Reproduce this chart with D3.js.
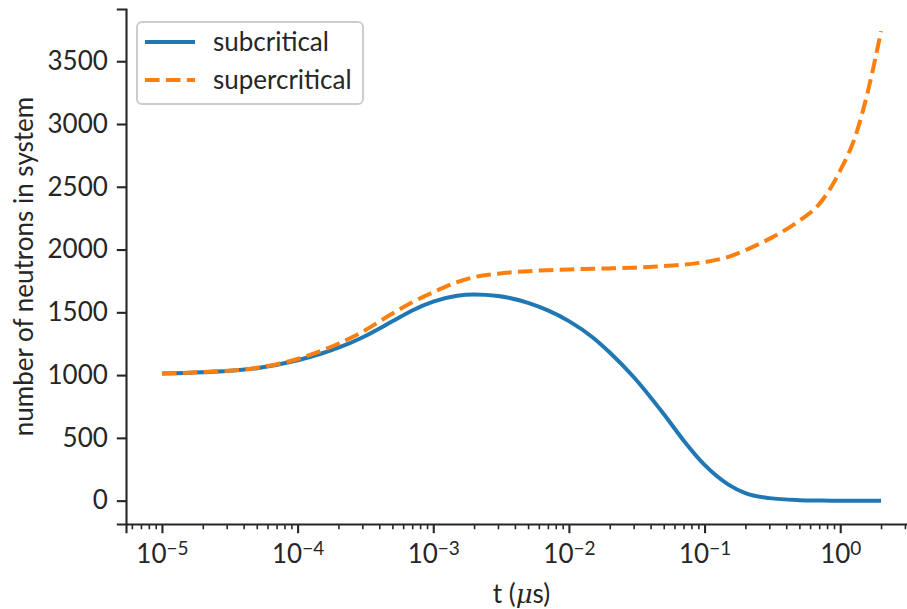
<!DOCTYPE html>
<html>
<head>
<meta charset="utf-8">
<script src="https://cdn.jsdelivr.net/npm/d3@7"></script>
<style>
  body { margin: 0; background: #fff; }
  svg { display: block; }
  text { font-family: Lato, "Open Sans", sans-serif; fill: #262626; }
</style>
</head>
<body>
<div id="chart"></div>
<script>
// time in microseconds (log scale)
const times = [1e-5, 2e-5, 5e-5, 1e-4, 1.5e-4, 2e-4, 3e-4, 5e-4, 7e-4, 1e-3, 1.5e-3, 2e-3,
  3e-3, 5e-3, 7e-3, 1e-2, 1.5e-2, 2e-2, 3e-2, 5e-2, 7e-2, 0.1, 0.15, 0.2, 0.3, 0.5, 0.7,
  0.85, 1, 1.3, 1.6, 2]

const subcritical = [1012, 1022, 1055, 1118, 1172, 1218, 1300, 1428, 1515, 1585, 1632, 1642,
  1630, 1575, 1515, 1430, 1300, 1180, 985, 690, 480, 285, 128, 60, 20, 4, 1,
  0, 0, 0, 0, 0]

const supercritical = [1012, 1024, 1058, 1128, 1195, 1250, 1345, 1490, 1580, 1660, 1740, 1780,
  1808, 1828, 1836, 1842, 1847, 1850, 1856, 1868, 1880, 1900, 1942, 1995, 2085, 2230, 2362,
  2490, 2630, 2910, 3260, 3740]

const seriesNames = ['subcritical', 'supercritical']
const yTicks = [0, 500, 1000, 1500, 2000, 2500, 3000, 3500]
const xTicks = [1e-5, 1e-4, 1e-3, 1e-2, 1e-1, 1]
const xTickExps = ['\u22125', '\u22124', '\u22123', '\u22122', '\u22121', '0']

const width = 907
const height = 609
const margin = { top: 9, right: -10, bottom: 85, left: 126 }

const svg = d3.select('#chart')
  .append('svg')
  .attr('width', width)
  .attr('height', height)

const x = d3.scaleLog()
  .domain([Math.pow(10, -5.265), Math.pow(10, 0.566)])
  .range([margin.left, width - margin.right])

const y = d3.scaleLinear()
  .domain([-186, 3916])
  .range([height - margin.bottom, margin.top])

const colors = ['#1f77b4', '#ff7f0e']
const dashes = [null, '14.6,6.3']

const line = d3.line()
  .x(d => x(d[0]))
  .y(d => y(d[1]))
  .curve(d3.curveMonotoneX)

const series = [subcritical, supercritical]
series.forEach((vals, i) => {
  svg.append('path')
    .datum(times.map((t, j) => [t, vals[j]]))
    .attr('fill', 'none')
    .attr('stroke', colors[i])
    .attr('stroke-width', 4)
    .attr('stroke-dasharray', dashes[i])
    .attr('d', line)
})

// minor ticks on x
const minor = []
for (let e = -6; e <= 0; e++) {
  for (let m = 2; m <= 9; m++) {
    const v = m * Math.pow(10, e)
    if (v >= x.domain()[0] && v <= x.domain()[1]) minor.push(v)
  }
}

const xAxisY = height - margin.bottom

svg.append('g')
  .attr('transform', `translate(0,${xAxisY})`)
  .call(d3.axisBottom(x).tickValues(minor).tickSize(5.3).tickFormat(''))
  .call(g => g.select('.domain').remove())
  .call(g => g.selectAll('line').attr('stroke', '#262626').attr('stroke-width', 1.6))

const xAxis = svg.append('g')
  .attr('transform', `translate(0,${xAxisY})`)
  .call(d3.axisBottom(x).tickValues(xTicks).tickSize(9.2).tickFormat(''))

xAxis.select('.domain').attr('stroke', '#262626').attr('stroke-width', 2.1)
xAxis.selectAll('line').attr('stroke', '#262626').attr('stroke-width', 2.1)

xAxis.selectAll('.tick')
  .append('text')
  .attr('y', 39)
  .attr('text-anchor', 'middle')
  .style('font-size', '26px')
  .each(function (d, i) {
    const t = d3.select(this)
    t.append('tspan').text('10')
    t.append('tspan')
      .attr('dy', -8)
      .style('font-size', '19px')
      .text(xTickExps[i])
  })

const yAxis = svg.append('g')
  .attr('transform', `translate(${margin.left},0)`)
  .call(d3.axisLeft(y).tickValues(yTicks).tickSize(9.2).tickPadding(9).tickFormat(d3.format('d')))

yAxis.select('.domain').attr('stroke', '#262626').attr('stroke-width', 2.1)
yAxis.selectAll('line').attr('stroke', '#262626').attr('stroke-width', 2.1)
yAxis.selectAll('text')
  .style('font-size', '26px')
  .style('font-family', 'Lato, sans-serif')
  .attr('fill', '#262626')

// axis labels
const xl = svg.append('text')
  .attr('x', (margin.left + width - margin.right) / 2)
  .attr('y', 603)
  .attr('text-anchor', 'middle')
  .style('font-size', '26px')
xl.append('tspan').text('t (')
xl.append('tspan').style('font-style', 'italic').style('font-family', 'DejaVu Serif').text('\u03bc')
xl.append('tspan').text('s)')

svg.append('text')
  .attr('transform', `translate(33,${(margin.top + xAxisY) / 2}) rotate(-90)`)
  .attr('text-anchor', 'middle')
  .style('font-size', '26px')
  .text('number of neutrons in system')

// legend
const legend = svg.append('g').attr('transform', 'translate(137,22)')
legend.append('rect')
  .attr('width', 226)
  .attr('height', 82)
  .attr('rx', 5)
  .attr('fill', 'white')
  .attr('fill-opacity', 0.8)
  .attr('stroke', '#cccccc')
  .attr('stroke-width', 2)

seriesNames.forEach((name, i) => {
  const row = legend.append('g').attr('transform', `translate(0,${20 + i * 38})`)
  row.append('line')
    .attr('x1', 8).attr('x2', 58)
    .attr('stroke', colors[i])
    .attr('stroke-width', 4)
    .attr('stroke-dasharray', dashes[i])
  row.append('text')
    .attr('x', 76)
    .attr('dy', '0.35em')
    .style('font-size', '26px')
    .text(name)
})
</script>
</body>
</html>
